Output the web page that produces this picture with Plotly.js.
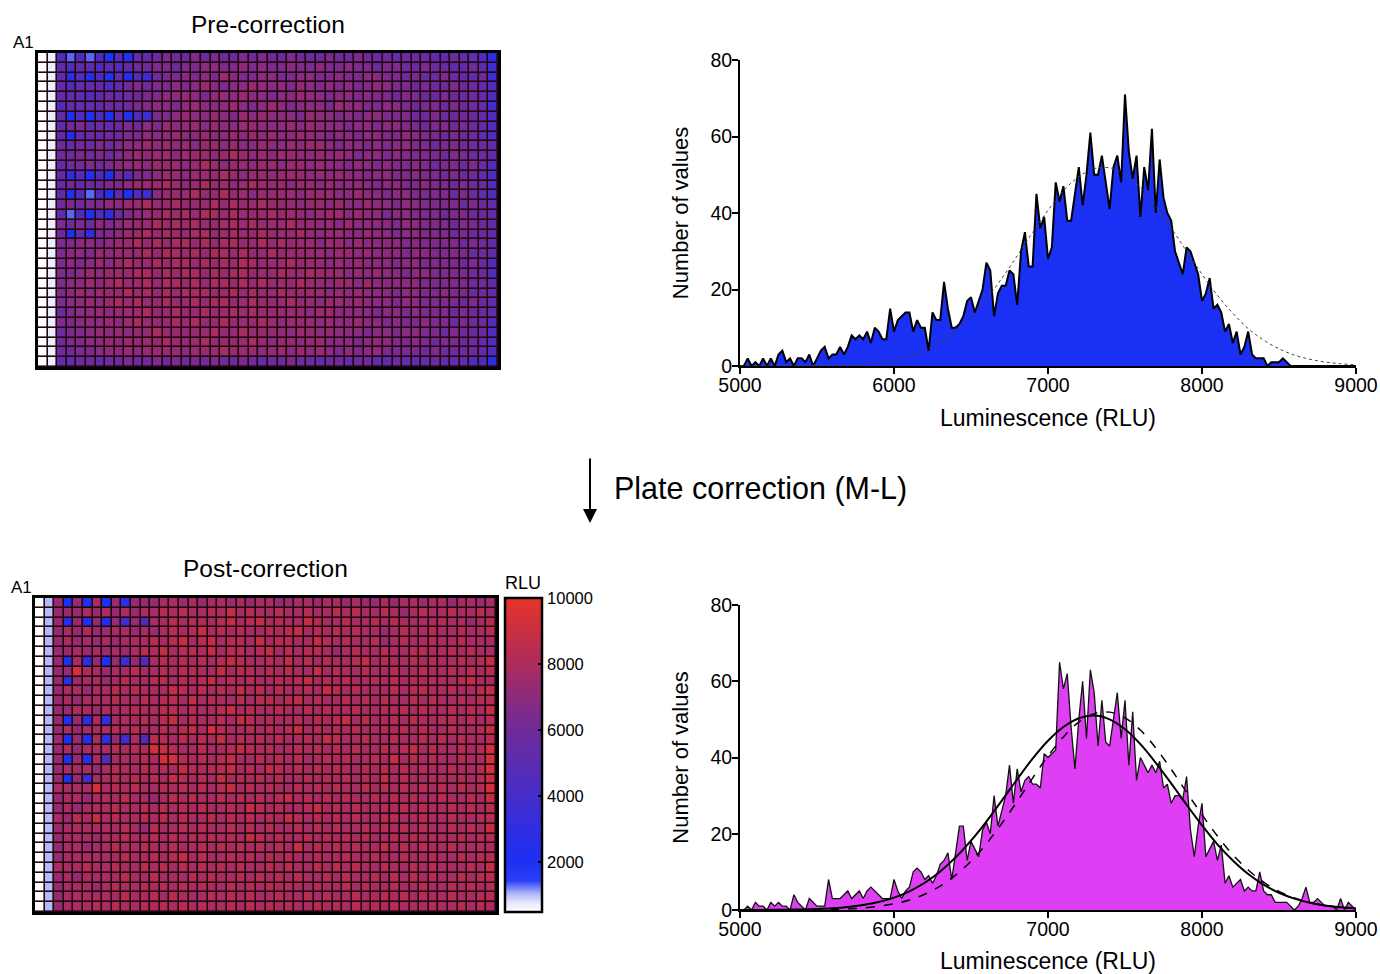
<!DOCTYPE html>
<html>
<head>
<meta charset="utf-8">
<script src="https://cdn.plot.ly/plotly-3.0.1.min.js"></script>
<style>html,body{margin:0;padding:0;background:#fff;}#chart{width:1380px;height:974px;}</style>
</head>
<body>
<div id="chart"></div>
<script>
// ---------------- DATA ----------------
// Plate heatmaps: 32 rows x 48 columns (1536-well plate), one letter per well.
const LEVEL_KEYS = "abcdefghijklmnopqr";
const LEVEL_RLU = [400, 700, 1000, 1300, 2000, 2800, 3600, 4400, 5200, 5800, 6400, 6900, 7300, 7800, 8300, 8800, 9300, 9700];

const PRE_ROWS = [
 "abhdhdhe heiijkjj kjkjjkjk jjkjjjkj jkjjjijj jiijiihf",
 "abihiihi hijjkkjk kllkklkl kklkklkk lkkjkkjj kjjiijig",
 "abifhehe iehgjkkl klkmlkkl lkkllkkl kkllkkjk jjkjiijg",
 "abihiiih ijkjkklk lmlkllml llkmlklk lkkllkkj kjjkjjih",
 "abiiihij ijjkkllm lklmlmll kllmllkl lklkkjkk jjkjjjih",
 "abhiiiij jjkkllkl mlllmlkl mlklllkm llkkllkj kkjkjjig",
 "abiehehe iehgkklm llmlkmlm lllkmllk lkllkkkj jkjjjjih",
 "abijkiji jkjlkmll mlmllmml llmlmlll kllkllkk jkkjkjih",
 "abieijij jkklllml lmllmlml mllmllkl lkllkkll kkjkjjih",
 "abjijjkj kllmlmlm lmmlmllm llmlmmlk llklkllk kjkkjjji",
 "abjjkjkj klmlmmlm mmlmnmlm lmmllmlm lkllklkk kkjkkjji",
 "abijjkjk llmlmmml mnmlmmlm mlmmlmll kllklkkl kjkkjkjh",
 "abifhehe jhkklmml mmmnmlmm lmmmlmlm llkllkkl kkjkjjih",
 "abijijjk klmmmnml mnmmlmnm mmlmmlml lllkllkk lkkjkjjh",
 "abiehdhe iehglmmm nmmnmmlm mmmlmmml lmllkllk kkkjkjih",
 "abjkjkkl lmmnmmnm mmnmnmmn mmmlmmlm llmllkll kkkkjkji",
 "abidhehf jklmmnmn mnnmnmmm nmmmlmmm lmllkllk kkjkkjji",
 "abkjkjlk lmmmnmnm nmmnnmnm mmnmmlml mllllkll kkkjkkji",
 "abjeifkk lmmnmnmm nnmmnmmn mmmnmlmm llmllkll kkkjkjji",
 "abkkllkl mmnmnmnn mnmnnmmn mnmmmlmm lmllllkl kkkkjkji",
 "abkllkml mmmnmnnm nmnnmnmm nmmmmmlm mlmlllkl lkkkkjji",
 "abklklml mnmmnmnn mnmnmnnm mmnmmmlm lmlllkll kkkkjkjh",
 "abkklmlm mmnnmnmn nmnmnnmm mnmmnmmm lmlmllkl lkkkkjjh",
 "abkllmlm nmmnmnnm nmnnmnmn mmmnmmlm mlmlllll kkkkkjji",
 "abklmlmm mnmnmnmn nnmmnmnm mnmmmmlm lmlllkll kklkkjji",
 "abkllmlm nmnmmnmm nmnnmmnm mmnmmlmm lmlllkll kkkkjkji",
 "abjkllml mmmnmmnm mnmmnmnm mmmmlmml lllkllkl kkkjkjji",
 "abkklllm lmnmmmnm nmmnmmmn mlmmmlml lmllklkk lkkjkjjh",
 "abjkklml mlmmnmmm mmnmmnmm mmlmmlml llkllkll kkjkjjjh",
 "abjkkllm lmmmmnmm mnmmmmnm lmmlmmll lklllkkl kjkkjjih",
 "abjjkkll lmlmmmml mmmnmmml mmlmlmlk lkllkkkk jkjjjjih",
 "abiijjij jkjjkjkj kjkjjkji jjkjjijj ijjiijii ijiiihhf"
];

const POST_ROWS = [
 "acmemene mfmmmnnm nmnnmnmn nmmnnmnn mnmmnmnn mnnmnnmn",
 "acmmmnmn mnmnnono nnonpnon nonnonno nonnonmn onnonnon",
 "acmememe mgmhnnon onnopnop nonnponn onnononn nnonnmno",
 "acmnmnmm nnmnmnon opnononn onopnono nonnmnon nonnonno",
 "acmnmnmn mnnnonop nopnoonp noonnpon onnomnon nonnonnn",
 "acmmnmnm nmnonpno onpnoono pnonoonm nonnonno onnononn",
 "acmenfme mgmhnono nonoponn onpnonon nopnonno nonnonop",
 "acmmqnnm nnonnono onnpnoon ononnpno nnonnonn onnonono",
 "acmfmnnm nonnoono nopnonon nonopnon onnonono nonnopnn",
 "acmnnmnn ononnnpo nononpno nonnonpo nonnnono onnonnop",
 "acmnmnnn onnonoon pnonnono onopnonn onononno nonnonoo",
 "acmmnnmn nnonnoon onnopnon nonnonon nonnonon onnononp",
 "acmemfnf nnnonopn onnonpon onnonono pnonnono nnoonono",
 "acmnmnnn ononnono pnqonnon onopnono nonnonon onnonnop",
 "acmemenf mgnhoono nonpnono nonnonpo nnonnonn onononno",
 "acmnmnnn ononqpon nonnopon onnonono nonnonop nonnonoq",
 "acmemfnh nnnonqqo nonopnno nononnon onnonpno nonnonnq",
 "acmnnnmn onnononp onoopnon pononono nnononon onnonnoq",
 "acmemgnn onononpo nonpnono nonnonon ononpnon nonnonop",
 "acnnnnqn ononnono nonopnon onnonono nnononon onononoq",
 "acmnnmnn nonnmnon onnonono nopnonon onnonono nnonnonp",
 "acmnmnnn onnonono nonnonpo nonnopno nonnonon onnonono",
 "acnmonpn onnonono nnononon onponono nonnoonn onnonnoo",
 "acmnnnnn nonmonno nonnonon onnonono nnononon onnononp",
 "acmnnnmn nonnonon onononpo nonnonon ononnono nonnonoo",
 "acmnnmnn onnonnon nononono nonpnono nonnpnon onnonnon",
 "acmnnnnn nonnonop nonnonon ononnonn onnonnon nonnonoo",
 "acnnnonn onnonono nonononn ononnono nonnonno nonnnonp",
 "acmnmnnn nonnonnn ononnono nononnon onnonono nonnonoo",
 "acmnnnmn onnonono nonnonon ononnonn ononnonn onnonono",
 "acmnnnnn nonnonon nnononon nonnonon nonnonon onnonnoo",
 "acmnnnon onnonono nonnonon ononnono nonononn nonnonon"
];

// Histograms: counts per 25-RLU bin from 5000 to 9000 (161 bins)
const BIN_START = 5000, BIN_WIDTH = 25;
const PRE_COUNTS = [
 0,0,2,0,1,0,2,0,      // 5000
 2,0,3,4,1,2,0,2,      // 5200
 2,1,3,0,2,4,5,2,      // 5400
 3,3,5,3,5,8,7,8,      // 5600
 7,9,6,10,9,7,7,15,    // 5800
 9,12,13,14,14,9,12,10,// 6000
 10,4,14,12,12,22,15,10,// 6200
 10,11,13,17,18,14,17,20,// 6400
 27,25,13,19,21,21,25,24,// 6600
 16,30,35,26,26,45,36,39,// 6800
 28,31,48,43,47,38,38,45,// 7000
 52,42,50,61,50,50,55,48,// 7200
 41,52,55,48,71,56,49,55,// 7400
 39,52,46,62,40,54,44,40,// 7600
 38,30,27,24,31,30,27,24,// 7800
 17,19,23,15,16,14,9,11, // 8000
 6,9,3,5,9,3,2,2,        // 8200
 2,0,1,1,1,2,1,0,        // 8400
 0,0,0,0,0,0,0,0,        // 8600
 0,0,0,0,0,0,0,0,        // 8800
 0                       // 9000
];
const POST_COUNTS = [
 0,0,1,0,2,1,1,0,        // 5000
 2,1,2,1,1,0,4,2,        // 5200
 1,0,3,2,1,1,1,8,        // 5400
 3,3,3,4,5,3,4,5,        // 5600
 3,5,6,5,4,3,3,3,        // 5800
 8,5,3,5,6,10,11,10,     // 6000
 8,9,7,9,12,13,15,8,     // 6200
 15,22,22,13,18,16,14,21,// 6400
 23,20,30,22,26,30,38,28,// 6600
 37,31,34,35,33,33,32,41,// 6800
 40,41,42,65,58,62,48,37,// 7000
 50,60,45,63,57,43,55,44,// 7200
 43,50,57,45,55,38,52,34,// 7400
 40,38,36,38,36,39,32,33,// 7600
 28,30,30,29,35,21,14,22,// 7800
 28,14,16,18,13,17,7,9,  // 8000
 6,7,8,5,6,5,5,10,       // 8200
 5,4,4,2,2,2,2,1,        // 8400
 0,1,3,6,2,2,3,2,        // 8600
 1,1,1,0,3,0,2,1,        // 8800
 0                       // 9000
];

// Gaussian fit curves read every 100 RLU (5000..9000)
const FIT_X = [5000,5100,5200,5300,5400,5500,5600,5700,5800,5900,6000,6100,6200,6300,6400,6500,6600,6700,6800,6900,7000,7100,7200,7300,7400,7500,7600,7700,7800,7900,8000,8100,8200,8300,8400,8500,8600,8700,8800,8900,9000];
const PRE_FIT = [0,0,0.01,0.02,0.04,0.08,0.15,0.29,0.53,0.93,1.59,2.61,4.12,6.26,9.15,12.9,17.5,22.9,28.8,34.9,40.7,45.8,49.5,51.6,51.8,50.1,46.7,41.8,36.1,30.0,24.0,18.5,13.8,9.8,6.77,4.49,2.86,1.76,1.04,0.59,0.33];
const POST_FIT = [0.01,0.02,0.04,0.07,0.14,0.26,0.45,0.78,1.30,2.09,3.26,4.91,7.15,10.1,13.8,18.2,23.2,28.7,34.3,39.7,44.4,48.0,50.3,51.0,50.0,47.4,43.5,38.6,33.2,27.6,22.2,17.2,13.0,9.45,6.66,4.53,2.99,1.91,1.18,0.70,0.41];
const POST_PREFIT = [0,0,0.01,0.02,0.04,0.08,0.16,0.30,0.54,0.96,1.62,2.63,4.14,6.26,9.13,12.8,17.4,22.7,28.5,34.6,40.4,45.4,49.3,51.5,51.9,50.4,47.2,42.5,36.9,30.9,25.0,19.4,14.5,10.5,7.31,4.90,3.17,1.98,1.19,0.69,0.38];

const X_TICKS = [5000,6000,7000,8000,9000];
const Y_TICKS = [0,20,40,60,80];
const CB_TICKS = [2000,4000,6000,8000,10000];

// ---------------- BUILD ----------------
const W = 1380, H = 974;
const fx = p => p / W, fy = p => 1 - p / H;
const FONT = "'Liberation Sans', Arial, Helvetica, sans-serif";

function decode(rows){
  return rows.map(r => {
    const s = r.replace(/\s+/g, '');
    const out = [];
    for (let i = 0; i < 48; i++) {
      const ch = s[Math.min(i, s.length - 1)];
      out.push(LEVEL_RLU[LEVEL_KEYS.indexOf(ch)]);
    }
    return out;
  });
}
const preZ = decode(PRE_ROWS), postZ = decode(POST_ROWS);
const binX = PRE_COUNTS.map((_, i) => BIN_START + i * BIN_WIDTH);
const binX2 = POST_COUNTS.map((_, i) => BIN_START + i * BIN_WIDTH);

const ZMIN = 480, ZMAX = 10000;
const CSCALE = [
 [0, '#ffffff'], [0.03, '#e6e7fd'], [0.06, '#aab3fa'], [0.1, '#2a3ef6'],
 [0.16, '#1e30f2'], [0.265, '#2f2ee2'], [0.37, '#462dc8'], [0.475, '#5b2cb0'],
 [0.58, '#6f2b98'], [0.685, '#8c2b7c'], [0.79, '#ac2c5c'], [0.895, '#c92f42'], [1, '#e6342a']
];

// colourbar geometry (pixels)
const CB_LEFT = 505, CB_TOP = 598, CB_LEN = 314, CB_THICK = 37;

const heatCommon = {
  type: 'heatmap', colorscale: CSCALE, zmin: ZMIN, zmax: ZMAX,
  xgap: 1.6, ygap: 1.6, hoverinfo: 'skip'
};

const traces = [
  Object.assign({}, heatCommon, {z: preZ, xaxis: 'x', yaxis: 'y', showscale: false}),
  Object.assign({}, heatCommon, {z: postZ, xaxis: 'x3', yaxis: 'y3', showscale: true,
    colorbar: {
      x: fx(CB_LEFT), xanchor: 'left', y: fy(CB_TOP), yanchor: 'top',
      len: CB_LEN, lenmode: 'pixels', thickness: CB_THICK, thicknessmode: 'pixels',
      xpad: 0, ypad: 0, outlinewidth: 2.5, outlinecolor: '#000',
      tickvals: CB_TICKS, ticktext: CB_TICKS.map(String),
      ticks: 'inside', ticklen: 5, tickwidth: 2, tickcolor: '#000', ticklabelstandoff: 3,
      tickfont: {family: FONT, size: 16.5, color: '#000'}
    }}),
  {type: 'scatter', mode: 'lines', x: binX, y: PRE_COUNTS, xaxis: 'x2', yaxis: 'y2',
   fill: 'tozeroy', fillcolor: '#1b30f5', line: {color: '#000', width: 2}, hoverinfo: 'skip'},
  {type: 'scatter', mode: 'lines', x: FIT_X, y: PRE_FIT, xaxis: 'x2', yaxis: 'y2',
   line: {color: '#444', width: 1, dash: 'dot', shape: 'spline'}, hoverinfo: 'skip'},
  {type: 'scatter', mode: 'lines', x: binX2, y: POST_COUNTS, xaxis: 'x4', yaxis: 'y4',
   fill: 'tozeroy', fillcolor: '#df3ff4', line: {color: '#111', width: 1.3}, hoverinfo: 'skip'},
  {type: 'scatter', mode: 'lines', x: FIT_X, y: POST_PREFIT, xaxis: 'x4', yaxis: 'y4',
   line: {color: '#000', width: 1.5, dash: 'dash', shape: 'spline'}, hoverinfo: 'skip'},
  {type: 'scatter', mode: 'lines', x: FIT_X, y: POST_FIT, xaxis: 'x4', yaxis: 'y4',
   line: {color: '#000', width: 2, shape: 'spline'}, hoverinfo: 'skip'}
];

function heatAxes(xd, yd, xa, ya){
  return [
    {domain: xd, anchor: ya, range: [-0.5, 47.5], showticklabels: false, ticks: '', showgrid: false,
     zeroline: false, showline: true, mirror: true, linewidth: 3, linecolor: '#000', fixedrange: true},
    {domain: yd, anchor: xa, range: [31.5, -0.5], showticklabels: false, ticks: '', showgrid: false,
     zeroline: false, showline: true, mirror: true, linewidth: 3, linecolor: '#000', fixedrange: true}
  ];
}
function histAxes(xd, yd, xa, ya){
  const tf = {family: FONT, size: 19.5, color: '#000'};
  return [
    {domain: xd, anchor: ya, range: [5000, 9000], tickvals: X_TICKS, ticks: 'outside', ticklen: 6,
     tickwidth: 2, tickcolor: '#000', showline: true, linewidth: 2, linecolor: '#000', showgrid: false,
     zeroline: false, tickfont: tf, ticklabelstandoff: -5,
     title: {text: 'Luminescence (RLU)', font: {family: FONT, size: 23, color: '#000'}, standoff: 14}},
    {domain: yd, anchor: xa, range: [0, 80], tickvals: Y_TICKS, ticks: 'outside', ticklen: 6,
     tickwidth: 2, tickcolor: '#000', showline: true, linewidth: 2, linecolor: '#000', showgrid: false,
     zeroline: false, tickfont: tf, ticklabelstandoff: -4,
     title: {text: 'Number of values', font: {family: FONT, size: 22, color: '#000'}, standoff: 16}}
  ];
}

const [ax1, ay1] = heatAxes([fx(38), fx(498)], [fy(367), fy(53)], 'x', 'y');
const [ax3, ay3] = heatAxes([fx(35), fx(496)], [fy(912), fy(598)], 'x3', 'y3');
const [ax2, ay2] = histAxes([fx(740), fx(1356)], [fy(366), fy(60)], 'x2', 'y2');
const [ax4, ay4] = histAxes([fx(740), fx(1356)], [fy(910), fy(605)], 'x4', 'y4');

function txt(text, x, y, size, xanchor){
  return {text: text, x: fx(x), y: fy(y), xref: 'paper', yref: 'paper', showarrow: false,
          xanchor: xanchor || 'center', yanchor: 'middle', font: {family: FONT, size: size, color: '#000'}};
}

// left-edge tick dashes of the colour bar, placed through the colour scale
const cbDashes = CB_TICKS.filter(v => v < ZMAX).map(v => {
  const yPix = CB_TOP + (1 - (v - ZMIN) / (ZMAX - ZMIN)) * CB_LEN;
  return {type: 'line', xref: 'paper', yref: 'paper', x0: fx(CB_LEFT), x1: fx(CB_LEFT + 5),
          y0: fy(yPix), y1: fy(yPix), line: {color: '#000', width: 2}};
});

const layout = {
  width: W, height: H, margin: {l: 0, r: 0, t: 0, b: 0},
  paper_bgcolor: '#fff', plot_bgcolor: '#fff', showlegend: false,
  xaxis: ax1, yaxis: ay1, xaxis2: ax2, yaxis2: ay2, xaxis3: ax3, yaxis3: ay3, xaxis4: ax4, yaxis4: ay4,
  shapes: [
    {type: 'rect', xref: 'x domain', yref: 'y domain', x0: 0, x1: 1, y0: 0, y1: 1, layer: 'below',
     fillcolor: '#24060f', line: {width: 0}},
    {type: 'rect', xref: 'x3 domain', yref: 'y3 domain', x0: 0, x1: 1, y0: 0, y1: 1, layer: 'below',
     fillcolor: '#24060f', line: {width: 0}}
  ].concat(cbDashes),
  annotations: [
    txt('Pre-correction', 268, 24, 24.5),
    txt('A1', 23, 42, 17),
    txt('Post-correction', 265, 568, 24.5),
    txt('A1', 21, 587, 17),
    txt('RLU', 523, 583, 18),
    txt('Plate correction (M-L)', 612, 488, 30.5, 'left'),
    {x: fx(590), y: fy(523), xref: 'paper', yref: 'paper', text: '', showarrow: true,
     ax: 0, ay: -66, arrowhead: 2, arrowsize: 1.4, arrowwidth: 2, arrowcolor: '#000'}
  ]
};

Plotly.newPlot('chart', traces, layout, {displayModeBar: false, staticPlot: true});
</script>
</body>
</html>
